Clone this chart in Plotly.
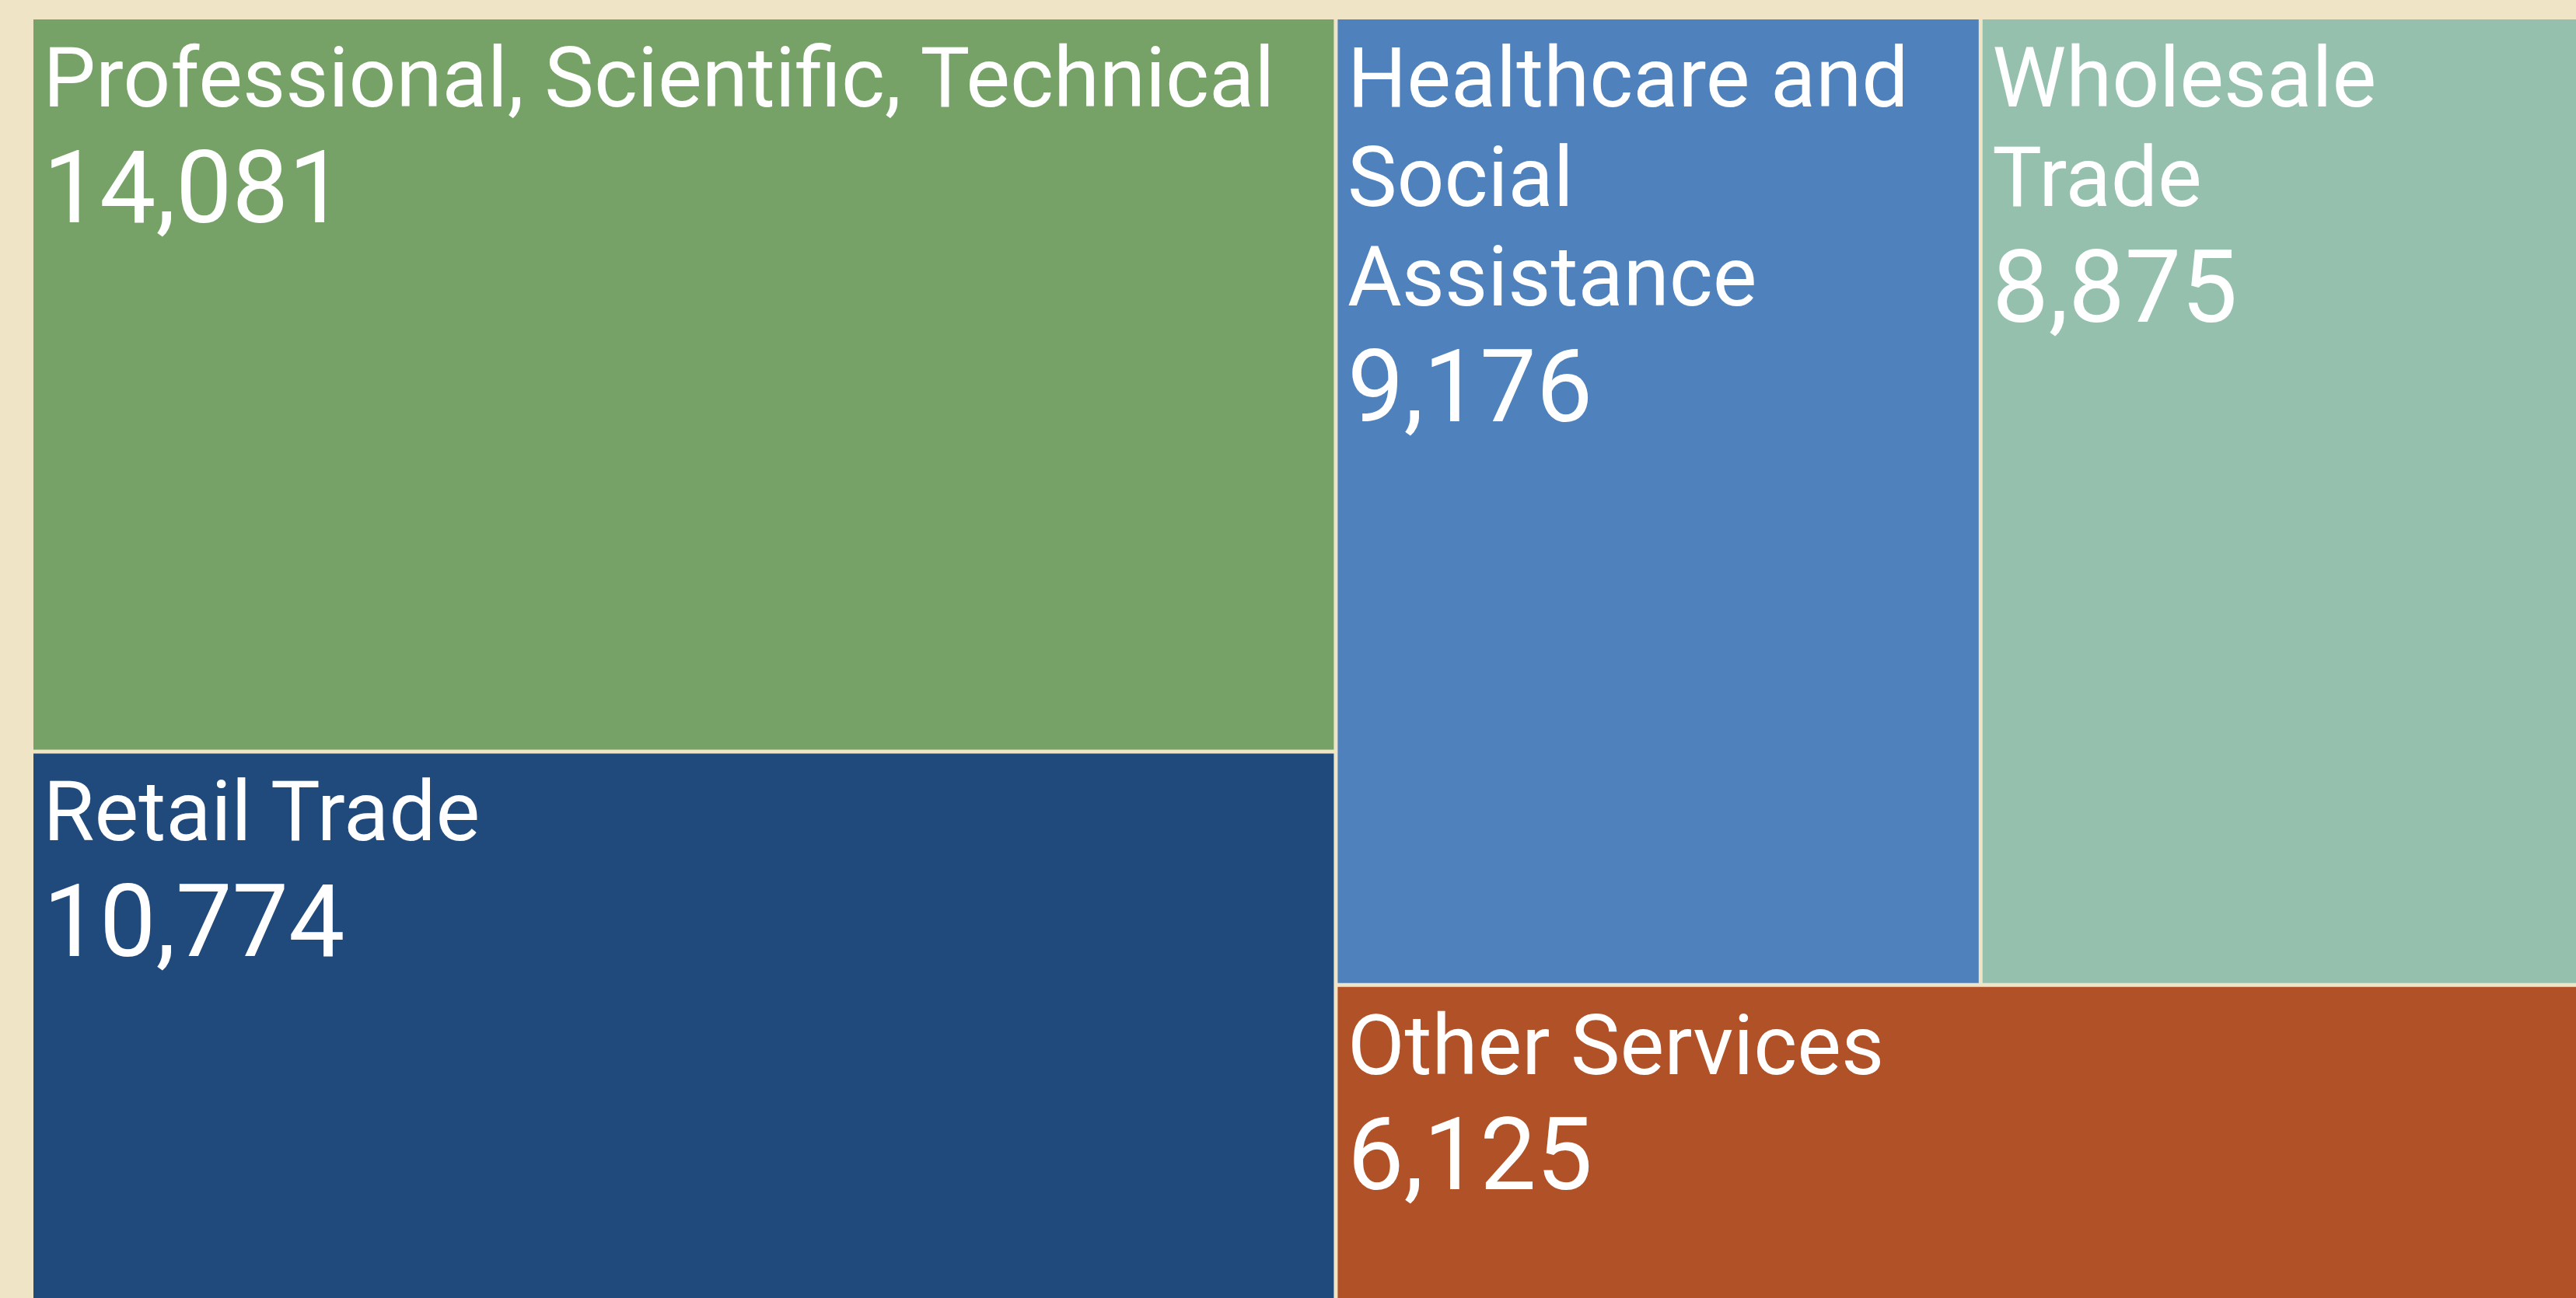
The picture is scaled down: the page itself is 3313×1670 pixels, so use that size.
import plotly.graph_objects as go

# Data
categories = [
    "Professional, Scientific, Technical",
    "Retail Trade",
    "Healthcare and<br>Social<br>Assistance",
    "Wholesale<br>Trade",
    "Other Services",
]
values = [14081, 10774, 9176, 8875, 6125]
colors = ["#76A267", "#20497C", "#4F81BD", "#95C0AE", "#B05127"]
parents = [""] * len(categories)

BG = "#F0E4C6"

# text styling (line prefix gives a small left inset and top inset)
indent = "<span style='font-size:119px;letter-spacing:-19px'>\u00a0</span>"
lab_open = "<span style='font-size:107px'>"
label_html = [
    indent + lab_open + c.replace("<br>", "</span><br>" + indent + lab_open) + "</span>"
    for c in categories
]

fig = go.Figure(
    go.Treemap(
        labels=categories,
        parents=parents,
        values=values,
        text=label_html,
        sort=True,
        tiling=dict(packing="squarify", squarifyratio=1.618034),
        pathbar=dict(visible=False),
        marker=dict(colors=colors, line=dict(color=BG, width=2),
                    pad=dict(t=0, l=0, r=0, b=0)),
        textposition="top left",
        texttemplate="%{text}<br>" + indent +
                     "<sub><span style='font-size:129px'>%{value:,}</span></sub>",
        textfont=dict(family="Roboto", size=98.5, color="white"),
        hoverinfo="label+value",
    )
)

fig.update_layout(
    width=3390,
    height=1712,
    margin=dict(l=42, r=42, t=24, b=24),
    paper_bgcolor=BG,
    plot_bgcolor=BG,
    showlegend=False,
)

fig.write_html(
    "out.html",
    post_script="document.body.style.margin='0';document.body.style.overflow='hidden';"
                "document.body.style.background='" + BG + "';",
)
